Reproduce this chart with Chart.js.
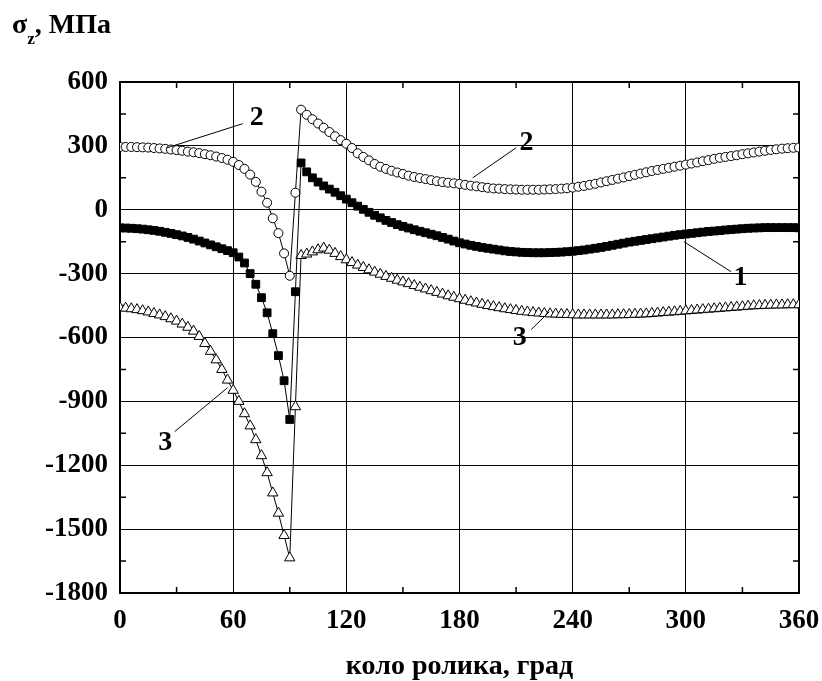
<!DOCTYPE html>
<html>
<head>
<meta charset="utf-8">
<script src="https://cdn.jsdelivr.net/npm/chart.js@4"></script>
<style>
    html, body { margin: 0; padding: 0; background: #fff; }
    #wrap { width: 822px; height: 681px; }
</style>
</head>
<body>
<div id="wrap"><canvas id="grafica" width="822" height="681"></canvas></div>
<script>
// Кут по колу ролика, град
const angulos = [
    0, 3, 6, 9, 12, 15, 18, 21, 24, 27, 30, 33, 36, 39, 42, 45, 48, 51, 54, 57,
    60, 63, 66, 69, 72, 75, 78, 81, 84, 87, 90, 93, 96, 99, 102, 105, 108, 111, 114, 117,
    120, 123, 126, 129, 132, 135, 138, 141, 144, 147, 150, 153, 156, 159, 162, 165, 168, 171, 174, 177,
    180, 183, 186, 189, 192, 195, 198, 201, 204, 207, 210, 213, 216, 219, 222, 225, 228, 231, 234, 237,
    240, 243, 246, 249, 252, 255, 258, 261, 264, 267, 270, 273, 276, 279, 282, 285, 288, 291, 294, 297,
    300, 303, 306, 309, 312, 315, 318, 321, 324, 327, 330, 333, 336, 339, 342, 345, 348, 351, 354, 357,
    360
];

// Крива 1 (чорні квадрати), МПа
const curva1 = [
    -85, -86, -87, -89, -91, -94, -97, -101, -106, -111, -117, -123, -130, -138, -147, -156, -165, -174, -183, -192,
    -202, -222, -250, -300, -350, -413, -484, -582, -685, -803, -985, -385, 220, 178, 150, 130, 112, 97, 82, 66,
    50, 33, 17, 2, -12, -26, -38, -50, -60, -70, -78, -86, -94, -101, -108, -115, -122, -130, -138, -147,
    -155, -161, -167, -172, -177, -181, -185, -189, -193, -196, -198, -200, -201, -202, -202, -202, -201, -200, -199, -197,
    -195, -192, -189, -185, -181, -177, -172, -167, -162, -157, -152, -148, -144, -140, -136, -132, -128, -124, -120, -117,
    -114, -111, -108, -105, -102, -100, -98, -95, -93, -91, -89, -87, -86, -85, -84, -84, -84, -84, -84, -84,
    -85
];

// Крива 2 (світлі кружки), МПа
const curva2 = [
    295, 295, 295, 294, 293, 292, 290, 288, 286, 283, 280, 277, 273, 270, 266, 261, 256, 250, 243, 235,
    225, 210, 192, 165, 131, 85, 33, -40, -110, -205, -310, 80, 470, 446, 425, 405, 385, 365, 345, 327,
    310, 290, 265, 248, 232, 215, 202, 192, 183, 175, 168, 160, 154, 149, 144, 139, 134, 130, 127, 124,
    121, 117, 113, 110, 106, 103, 100, 99, 97, 96, 95, 94, 94, 94, 94, 95, 96, 97, 99, 101,
    104, 108, 112, 117, 122, 128, 134, 140, 146, 152, 158, 164, 170, 176, 182, 187, 192, 197, 202, 207,
    212, 217, 222, 228, 233, 239, 244, 248, 252, 256, 261, 265, 269, 273, 277, 281, 284, 287, 289, 291,
    292
];

// Крива 3 (світлі трикутники), МПа
const curva3 = [
    -460, -462, -465, -469, -474, -480, -487, -494, -502, -512, -523, -537, -552, -570, -595, -628, -665, -705, -750, -800,
    -848, -900, -958, -1015, -1080, -1155, -1235, -1330, -1425, -1530, -1635, -925, -215, -208, -198, -188, -180, -190, -205, -220,
    -235, -248, -260, -271, -282, -293, -303, -313, -322, -331, -339, -347, -356, -364, -372, -380, -388, -396, -404, -411,
    -418, -425, -432, -438, -444, -450, -455, -460, -465, -469, -473, -477, -480, -483, -485, -487, -489, -490, -491, -492,
    -493, -494, -494, -494, -494, -494, -494, -494, -493, -493, -492, -491, -490, -489, -487, -485, -483, -481, -479, -477,
    -475, -473, -471, -469, -467, -465, -463, -461, -459, -457, -455, -453, -451, -450, -449, -448, -447, -447, -446, -446,
    -446
];

const ticksX = [0, 60, 120, 180, 240, 300, 360];
const ticksY = [600, 300, 0, -300, -600, -900, -1200, -1500, -1800];
const menoresX = [30, 90, 150, 210, 270, 330];
const menoresY = [450, 150, -150, -450, -750, -1050, -1350, -1650];

// Номери кривих з виносками (у координатах графіка)
const notas = [
    { texto: '2', desde: [25, 291], hasta: [65, 404], pos: [72.5, 432] },
    { texto: '2', desde: [187, 150], hasta: [210, 291], pos: [215.5, 315] },
    { texto: '1', desde: [299, -150], hasta: [324, -291], pos: [329, -319] },
    { texto: '3', desde: [57, -836], hasta: [29, -1042], pos: [24, -1094] },
    { texto: '3', desde: [227.6, -479], hasta: [218, -563], pos: [212, -600] }
];

const FUENTE = "'Liberation Serif', 'Times New Roman', serif";

const puntos = serie => angulos.map((a, i) => ({ x: a, y: serie[i] }));

// Рамка, дрібні поділки, виноски та підписи осей
const marco = {
    id: 'marco',
    beforeDatasetsDraw(chart) {
        const { ctx, chartArea: a, scales: { x, y } } = chart;
        ctx.save();
        ctx.strokeStyle = '#000';
        ctx.lineWidth = 1.5;
        ctx.beginPath();
        menoresX.forEach(v => {
            const px = x.getPixelForValue(v);
            ctx.moveTo(px, a.bottom); ctx.lineTo(px, a.bottom - 6);
            ctx.moveTo(px, a.top); ctx.lineTo(px, a.top + 6);
        });
        menoresY.forEach(v => {
            const py = y.getPixelForValue(v);
            ctx.moveTo(a.left, py); ctx.lineTo(a.left + 6, py);
            ctx.moveTo(a.right, py); ctx.lineTo(a.right - 6, py);
        });
        ctx.stroke();
        ctx.lineWidth = 2;
        ctx.strokeRect(a.left, a.top, a.right - a.left, a.bottom - a.top);
        ctx.restore();
    },
    afterDraw(chart) {
        const { ctx, chartArea: a, scales: { x, y } } = chart;
        ctx.save();
        ctx.fillStyle = '#000';
        ctx.strokeStyle = '#000';
        ctx.lineWidth = 1;
        ctx.font = 'bold 28px ' + FUENTE;
        ctx.textAlign = 'center';
        ctx.textBaseline = 'middle';
        notas.forEach(n => {
            ctx.beginPath();
            ctx.moveTo(x.getPixelForValue(n.desde[0]), y.getPixelForValue(n.desde[1]));
            ctx.lineTo(x.getPixelForValue(n.hasta[0]), y.getPixelForValue(n.hasta[1]));
            ctx.stroke();
            ctx.fillText(n.texto, x.getPixelForValue(n.pos[0]), y.getPixelForValue(n.pos[1]));
        });

        // σz, МПа
        ctx.textAlign = 'left';
        ctx.textBaseline = 'alphabetic';
        ctx.font = 'bold 28px ' + FUENTE;
        ctx.fillText('σ', 12, 33);
        let cx = 12 + ctx.measureText('σ').width;
        ctx.font = 'bold 17px ' + FUENTE;
        ctx.fillText('z', cx, 44);
        cx += ctx.measureText('z').width;
        ctx.font = 'bold 28px ' + FUENTE;
        ctx.fillText(', МПа', cx, 33);

        // коло ролика, град
        ctx.textAlign = 'center';
        ctx.fillText('коло ролика, град', (a.left + a.right) / 2, 674);
        ctx.restore();
    }
};

const ctx = document.getElementById('grafica').getContext('2d');
new Chart(ctx, {
    type: 'scatter',
    data: {
        datasets: [
            {
                label: '1',
                data: puntos(curva1),
                showLine: true,
                borderColor: '#000',
                borderWidth: 1,
                pointStyle: 'rect',
                pointRadius: 5.5,
                pointBackgroundColor: '#000',
                pointBorderColor: '#000',
                pointBorderWidth: 1
            },
            {
                label: '2',
                data: puntos(curva2),
                showLine: true,
                borderColor: '#000',
                borderWidth: 1,
                pointStyle: 'circle',
                pointRadius: 4.5,
                pointBackgroundColor: '#fff',
                pointBorderColor: '#000',
                pointBorderWidth: 1
            },
            {
                label: '3',
                data: puntos(curva3),
                showLine: true,
                borderColor: '#000',
                borderWidth: 1,
                pointStyle: 'triangle',
                pointRadius: 6,
                pointBackgroundColor: '#fff',
                pointBorderColor: '#000',
                pointBorderWidth: 1
            }
        ]
    },
    options: {
        responsive: false,
        animation: false,
        layout: { padding: { left: 0, right: 23, top: 82, bottom: 0 } },
        plugins: {
            legend: { display: false },
            title: { display: false },
            tooltip: { enabled: false }
        },
        scales: {
            x: {
                type: 'linear',
                min: 0,
                max: 360,
                afterBuildTicks: s => { s.ticks = ticksX.map(v => ({ value: v })); },
                afterFit: s => {
                    s.height = 88;
                    s.paddingLeft = 0;
                    s.paddingRight = 0;
                },
                ticks: {
                    color: '#000',
                    padding: 12,
                    maxRotation: 0,
                    font: { family: FUENTE, size: 27, weight: 'bold' },
                    callback: v => String(v)
                },
                grid: { color: '#000', lineWidth: 1, drawTicks: false },
                border: { color: '#000', width: 2 }
            },
            y: {
                type: 'linear',
                min: -1800,
                max: 600,
                afterBuildTicks: s => { s.ticks = ticksY.map(v => ({ value: v })); },
                afterFit: s => {
                    s.width = 120;
                    s.paddingTop = 0;
                    s.paddingBottom = 0;
                },
                ticks: {
                    color: '#000',
                    padding: 12,
                    font: { family: FUENTE, size: 27, weight: 'bold' },
                    callback: v => String(v)
                },
                grid: { color: '#000', lineWidth: 1, drawTicks: false },
                border: { color: '#000', width: 2 }
            }
        }
    },
    plugins: [marco]
});
</script>
</body>
</html>
